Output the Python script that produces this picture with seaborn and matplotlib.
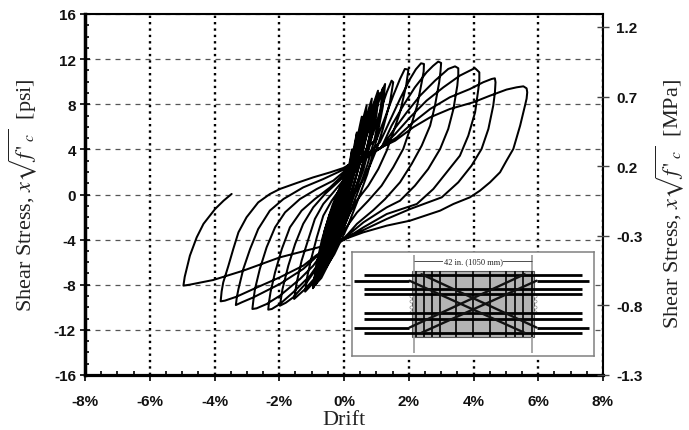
import pandas as pd
import numpy as np
import matplotlib
matplotlib.use("Agg")
import matplotlib.pyplot as plt
from matplotlib.patches import Rectangle
from matplotlib.ticker import MultipleLocator
import seaborn as sns

# tick values and labels
drift_ticks = [-8, -6, -4, -2, 0, 2, 4, 6, 8]
drift_labels = ["-8%", "-6%", "-4%", "-2%", "0%", "2%", "4%", "6%", "8%"]
psi_ticks = [-16, -12, -8, -4, 0, 4, 8, 12, 16]
mpa_ticks = [-1.3, -0.8, -0.3, 0.2, 0.7, 1.2]

# hysteresis, (drift %, stress) in loading order
core = [(0, 0), (.05, 1.2), (.12, 2.6), (.02, .6), (-.08, -1.1), (-.15, -2.2), (-.05, -.3), (.08, 1.4), (.25, 4.0),
        (.13, 1.3), (-.05, -1.5), (-.25, -3.5), (-.13, -1.3), (.03, .6), (.2, 2.6), (.4, 5.5), (.28, 3.1), (.12, .8),
        (-.07, -1.8), (-.2, -3.4), (-.38, -5), (-.25, -2.6), (-.1, -.5), (.05, 1), (.2, 2.6), (.38, 4.6), (.55, 6.9),
        (.46, 4.8), (.3, 2.7), (.1, .4), (-.1, -2), (-.3, -4.2), (-.5, -6), (-.38, -3.6), (-.2, -1.1), (0, 1),
        (.2, 2.8), (.45, 5.2), (.7, 7.9), (.62, 6), (.42, 3.6), (.2, 1), (0, -1.4), (-.25, -4), (-.45, -5.6),
        (-.65, -6.9), (-.52, -4.4), (-.32, -1.6), (-.1, .5), (.1, 1.9), (.35, 3.8), (.6, 6), (.86, 8.5), (.78, 6.4),
        (.58, 3.9), (.35, 1.3), (.1, -1.2), (-.15, -3.4), (-.45, -5.5), (-.8, -7.6), (-.67, -5.2), (-.45, -2.2),
        (-.2, .1), (.05, 1.6), (.3, 3.2), (.6, 5.4), (.85, 7.5), (1.05, 9.2), (.97, 7.3), (.75, 4.6), (.5, 1.8),
        (.2, -.9), (-.05, -3.2), (-.4, -5.6), (-.88, -8.0), (-.78, -6), (-.6, -3.2), (-.35, -.9), (-.05, 1.1),
        (.2, 2.4), (.5, 4.2), (.8, 6.4), (1.05, 8.4), (1.27, 9.8), (1.2, 7.8), (1.0, 4.8), (.72, 1.8), (.4, -.7),
        (.1, -2.9), (-.3, -5.3), (-.96, -8.3)]
core_repeat = [(-.85, -6.2), (-.68, -4), (-.45, -1.8), (-.2, -.2), (.05, 1.1), (.3, 2.4), (.55, 4), (.8, 6), (1.0, 7.6),
               (1.15, 8.9), (1.2, 9.4), (1.12, 7.4), (.95, 5), (.72, 2.6), (.45, .4), (.18, -1.6), (-.1, -3.6),
               (-.4, -5.7), (-.7, -7.4), (-.86, -7.9), (-.74, -5.6), (-.55, -3.2), (-.3, -1), (-.05, .7), (.2, 2),
               (.45, 3.4), (.68, 5.2), (.88, 7), (1.02, 8.4), (1.08, 9), (1.0, 7), (.82, 4.6), (.6, 2.2), (.32, 0),
               (.05, -2), (-.2, -3.9), (-.5, -6), (-.74, -7.3), (-.62, -5), (-.42, -2.4), (-.18, -.4), (.02, 1),
               (.25, 2.4), (.5, 4.2), (.72, 6), (.9, 7.6), (.95, 8.2), (.85, 6), (.68, 3.8), (.45, 1.4), (.18, -.8),
               (-.08, -2.8), (-.35, -5), (-.6, -6.6), (-.45, -3.8), (-.25, -1.4), (-.05, .4), (.15, 1.8), (.4, 3.8),
               (.62, 5.8), (.78, 7.4), (.68, 5), (.5, 2.8), (.25, .4), (0, -1.8), (-.25, -4), (-.5, -6), (-.35, -3.2),
               (-.12, -.8), (.1, 1.2), (.35, 3.4), (.55, 5.6), (.65, 6.8), (.5, 4), (.3, 1.6), (.05, -.9), (-.2, -3.2),
               (-.42, -5.2), (-.25, -2.4), (-.05, 0), (.2, 2), (.42, 4.4), (.52, 5.8), (.35, 3), (.1, .2), (-.2, -2.8),
               (-.55, -5.8), (-.96, -8.3)]
up_h = [(-.88, -6.9), (-.74, -5.13), (-.59, -3.36), (-.38, -1.58), (-.18, -.4), (.03, .49), (.24, 1.52), (.5, 2.9),
        (.75, 4.4), (.91, 5.51), (1.11, 7.29), (1.32, 9.06), (1.47, 10.09)]
down_h = [(1.52, 9.95), (1.42, 8.17), (1.2, 5.81), (1.01, 4.04), (.8, 2.56), (.55, 1.08), (.24, -.25), (.05, -1.6),
          (-.1, -3.2), (-.4, -5.0), (-.54, -6.01), (-.79, -7.34), (-1.2, -8.61)]
up_g = [(-1.13, -7.2), (-1.0, -5.57), (-.84, -3.8), (-.64, -1.88), (-.38, -.55), (-.12, .49), (.13, 1.37), (.5, 3.0),
        (.8, 4.4), (1.01, 4.92), (1.27, 6.84), (1.52, 8.76), (1.73, 10.24), (1.88, 11.13), (1.99, 11.07)]
down_g = [(1.92, 9.65), (1.73, 7.29), (1.52, 5.51), (1.32, 3.89), (1.06, 2.26), (.75, .78), (.39, -.55), (.15, -1.8),
          (-.05, -3.2), (-.3, -4.4), (-.59, -6.0), (-.84, -7.2), (-1.2, -8.38), (-1.54, -9.26)]
up_f = [(-1.46, -7.79), (-1.31, -5.87), (-1.1, -3.95), (-.9, -2.17), (-.64, -.84), (-.33, .19), (.08, 1.6), (.5, 2.9),
        (.85, 3.9), (1.11, 4.63), (1.42, 6.55), (1.73, 8.47), (2.04, 10.24), (2.22, 11.1), (2.38, 11.63), (2.47, 11.57)]
down_f = [(2.46, 10.9), (2.4, 9.95), (2.26, 7.88), (2.04, 5.81), (1.83, 4.04), (1.52, 2.41), (1.16, .78), (.75, -.55),
          (.4, -1.6), (.05, -3.0), (-.3, -4.5), (-.64, -5.87), (-.79, -6.31), (-1.15, -7.79), (-1.57, -9.12),
          (-1.8, -9.6), (-1.98, -9.86)]
up_e = [(-1.9, -8.38), (-1.72, -6.31), (-1.51, -4.39), (-1.26, -2.6), (-.95, -1.14), (-.59, .04), (-.23, .98),
        (.08, 1.8), (.5, 2.85), (.85, 3.6), (1.16, 4.18), (1.47, 6.1), (1.83, 7.88), (2.19, 9.5), (2.55, 10.83),
        (2.75, 11.4), (2.91, 11.78), (3.0, 11.66)]
down_e = [(2.98, 10.9), (2.94, 9.95), (2.81, 7.88), (2.66, 6.1), (2.4, 4.33), (2.09, 2.71), (1.73, 1.08), (1.27, -.4),
          (.9, -1.4), (.4, -2.6), (0, -3.9), (-.35, -4.6), (-.69, -5.72), (-1.05, -7.2), (-1.57, -8.67), (-1.98, -9.71),
          (-2.23, -10.15), (-2.34, -10.21)]
up_d = [(-2.32, -9.6), (-2.27, -8.67), (-2.13, -6.9), (-1.92, -4.83), (-1.67, -2.91), (-1.31, -1.43), (-.9, -.4),
        (-.43, .63), (.03, 1.9), (.5, 2.9), (.85, 3.6), (1.16, 4.18), (1.52, 5.66), (1.94, 7.29), (2.35, 8.76),
        (2.81, 10.09), (3.22, 11.13), (3.43, 11.36), (3.53, 11.19)]
down_d = [(3.53, 10.6), (3.5, 9.65), (3.38, 7.58), (3.22, 5.81), (2.97, 4.04), (2.6, 2.26), (2.19, .78), (1.73, -.55),
          (1.32, -1.14), (.6, -2.47), (0, -3.9), (-.35, -4.6), (-.74, -5.48), (-.95, -6.31), (-1.36, -7.49),
          (-1.98, -8.97), (-2.39, -9.71), (-2.7, -10.09), (-2.83, -10.15)]
up_c = [(-2.8, -9.4), (-2.75, -8.38), (-2.6, -6.6), (-2.39, -4.68), (-2.13, -2.91), (-1.82, -1.58), (-1.36, -.4),
        (-.84, .49), (-.33, 1.23), (.03, 2.1), (.5, 3.05), (.85, 3.7), (1.16, 4.18), (1.58, 5.36), (2.04, 6.84),
        (2.55, 8.32), (3.07, 9.5), (3.58, 10.54), (3.99, 11.13), (4.05, 11.19), (4.18, 10.83)]
down_c = [(4.18, 10.1), (4.15, 9.35), (4.05, 7.29), (3.84, 5.22), (3.58, 3.44), (3.17, 1.97), (2.76, .49), (2.25, -.84),
          (1.32, -1.73), (.6, -2.91), (0, -4.0), (-.35, -4.65), (-.79, -5.36), (-1.26, -6.6), (-1.98, -7.93),
          (-2.8, -9.12), (-3.16, -9.56), (-3.34, -9.8)]
up_b = [(-3.31, -9.1), (-3.26, -8.38), (-3.11, -6.6), (-2.9, -4.83), (-2.65, -3.06), (-2.29, -1.43), (-1.87, -.4),
        (-1.26, .63), (-.64, 1.37), (-.02, 2.2), (.5, 3.1), (.85, 3.7), (1.16, 4.18), (1.63, 5.07), (2.14, 6.4),
        (2.66, 7.58), (3.27, 8.62), (3.89, 9.35), (4.3, 9.95), (4.56, 10.24), (4.66, 10.3)]
down_b = [(4.68, 9.95), (4.66, 9.0), (4.61, 7.88), (4.46, 5.81), (4.25, 4.04), (3.94, 2.56), (3.53, 1.08), (3.02, -.25),
          (2.04, -1.29), (1.32, -2.17), (.6, -3.15), (-.12, -4.1), (-.45, -4.7), (-.84, -5.36), (-1.26, -6.31),
          (-1.98, -7.34), (-2.8, -8.38), (-3.32, -9.06), (-3.68, -9.41), (-3.81, -9.47)]
up_a = [(-3.78, -8.6), (-3.73, -7.79), (-3.57, -6.31), (-3.42, -4.83), (-3.26, -3.35), (-3.01, -2.02), (-2.65, -.7),
        (-2.29, .04), (-1.98, .49), (-1.46, 1.02), (-.95, 1.52), (-.43, 1.96), (-.02, 2.35), (.5, 3.2), (.85, 3.8),
        (1.16, 4.18), (1.58, 4.77), (2.14, 5.96), (2.66, 6.84), (3.27, 7.58), (3.99, 8.17), (4.51, 8.76), (5.02, 9.3),
        (5.33, 9.5), (5.54, 9.59), (5.64, 9.41)]
down_a = [(5.66, 9.06), (5.64, 8.5), (5.59, 7.88), (5.44, 6.1), (5.23, 4.04), (5.02, 3.0), (4.82, 1.97), (4.51, 1.08),
          (4.2, .34), (3.89, -.25), (3.38, -.84), (2.97, -1.43), (2.04, -2.32), (1.32, -2.76), (.6, -3.35), (-.12, -4.1),
          (-.5, -4.45), (-.9, -4.77), (-1.98, -5.57), (-3.11, -6.75), (-4.04, -7.58), (-4.76, -7.99), (-4.96, -8.08)]
final = [(-4.92, -7.3), (-4.86, -6.6), (-4.76, -5.42), (-4.55, -3.8), (-4.34, -2.6), (-3.98, -1.28), (-3.72, -.55),
         (-3.47, .05)]

# inset section, inches from the middle of the wall
bar_short_y = [-10.4, -5.3, -3.5, 3.4, 5.3, 10.4]
bar_long_y = [-8.3, 8.5]
stirrup_x = [-20.6, -17.6, -14.8, -12, -6, 0, 6, 12, 15, 18, 21]
notch_y = [-2.8, -1, 1, 2.8]

path = core + core_repeat + up_h + down_h + up_g + down_g + up_f + down_f + up_e + down_e + up_d + down_d \
    + up_c + down_c + up_b + down_b + up_a + down_a + final
df = pd.DataFrame(path, columns=["drift", "stress"])

sns.set_theme(style="white")
plt.rcParams["font.family"] = ["Liberation Sans", "DejaVu Sans"]
plt.rcParams["mathtext.fontset"] = "stix"

W, H = 689, 431
fig = plt.figure(figsize=(W / 100, H / 100), dpi=100, facecolor="white")
ax = fig.add_axes([85 / W, 1 - 376 / H, 518 / W, 361 / H])
ax.set_axisbelow(True)

sns.lineplot(data=df, x="drift", y="stress", sort=False, estimator=None, color="black",
             linewidth=1.45, ax=ax, solid_joinstyle="round")

ax.set_xlim(-8, 8)
ax.set_ylim(-16, 16)
ax.set_xticks(drift_ticks)
ax.set_xticklabels(drift_labels, fontsize=11, fontweight="bold", color="#111111")
ax.set_yticks(psi_ticks)
ax.set_yticklabels([str(t) for t in psi_ticks], fontsize=11, fontweight="bold", color="#111111")
ax.xaxis.set_minor_locator(MultipleLocator(0.5))
ax.yaxis.set_minor_locator(MultipleLocator(1))
ax.tick_params(axis="x", which="major", direction="out", length=4, width=1.2, pad=10, color="black", bottom=True)
ax.tick_params(axis="y", which="major", direction="inout", length=7, width=1.2, pad=3, color="black", left=True)
ax.tick_params(axis="both", which="minor", direction="in", length=3, width=1.2, color="black", bottom=True, left=True)
ax.grid(True, axis="x", which="major", color="black", linewidth=1.7, linestyle=(0, (1, 1.7)))
ax.grid(True, axis="y", which="major", color="#555555", linewidth=0.9, linestyle=(0, (4, 4)))
ax.grid(False, which="minor")

for side, lw in [("left", 2.5), ("bottom", 2.3), ("top", 1.5), ("right", 1.5)]:
    ax.spines[side].set_visible(True)
    ax.spines[side].set_linewidth(lw)
    ax.spines[side].set_color("black")

ax.set_xlabel("Drift", fontsize=16, family="Liberation Serif", color="#222222")
ax.xaxis.set_label_coords(0.5, -0.097)
ax.set_ylabel(r"Shear Stress, $x\sqrt{f\,'_{\ c}}$  [psi]", fontsize=16, family="Liberation Serif",
              color="#222222")
ax.yaxis.set_label_coords(-0.088, 0.5)

ax2 = ax.twinx()
ax2.set_ylim(-1.3, 1.293)
ax2.set_yticks(mpa_ticks)
ax2.set_yticklabels([f"{t:.1f}" for t in mpa_ticks], fontsize=11, fontweight="bold", color="#111111")
ax2.tick_params(axis="y", direction="inout", length=9, width=1, pad=5, color="#444444", right=True)
ax2.grid(False)
for sp in ax2.spines.values():
    sp.set_visible(False)
ax2.set_ylabel(r"Shear Stress, $x\sqrt{f\,'_{\ c}}$  [MPa]", fontsize=16, family="Liberation Serif",
               color="#222222")
ax2.yaxis.set_label_coords(1.097, 0.475)

# inset drawing of the wall section
ins = fig.add_axes([351.5 / W, 1 - 357 / H, 242.5 / W, 104 / H], facecolor="white")
ins.set_xlim(-43.6, 43.4)
ins.set_ylim(18.7, -18.6)
ins.set_xticks([])
ins.set_yticks([])
for sp in ins.spines.values():
    sp.set_linewidth(1.1)
    sp.set_color("#808080")
ins.add_patch(Rectangle((-22, -11.8), 44, 23.6, facecolor="#b4b4b4", edgecolor="#555555", linewidth=0.8))
ins.scatter([-22.2] * 4 + [22.2] * 4, notch_y * 2, s=5, color="white", edgecolor="#777777", linewidth=0.4, zorder=2)
ins.vlines([-21, 21], -17.7, 17.7, color="#999999", linewidth=1.2, zorder=1.5)
ins.vlines(stirrup_x, -11.8, 11.8, color="#1a1a1a", linewidth=1.4, zorder=3)
ins.hlines(bar_short_y, -39, 39, color="black", linewidth=2.0, zorder=3)
for y in bar_long_y:
    ins.hlines(y, -42.6, -22.8, color="black", linewidth=2.0, zorder=3)
    ins.hlines(y, 22.8, 41.6, color="black", linewidth=2.0, zorder=3)
    ins.plot([-22.8, 18.5], [y, -y * 1.25], color="#111111", linewidth=1.7, zorder=3)
    ins.plot([22.8, -18.5], [y, -y * 1.25], color="#111111", linewidth=1.7, zorder=3)
ins.hlines(-15.5, -21, 21, color="#333333", linewidth=0.6, zorder=2)
ins.text(0, -15.4, "42 in. (1050 mm)", fontsize=6, family="Liberation Serif", color="#222222", ha="center",
         va="center", bbox=dict(facecolor="white", edgecolor="none", pad=0.6), zorder=4)

fig.savefig("out.png", dpi=100, facecolor="white")
